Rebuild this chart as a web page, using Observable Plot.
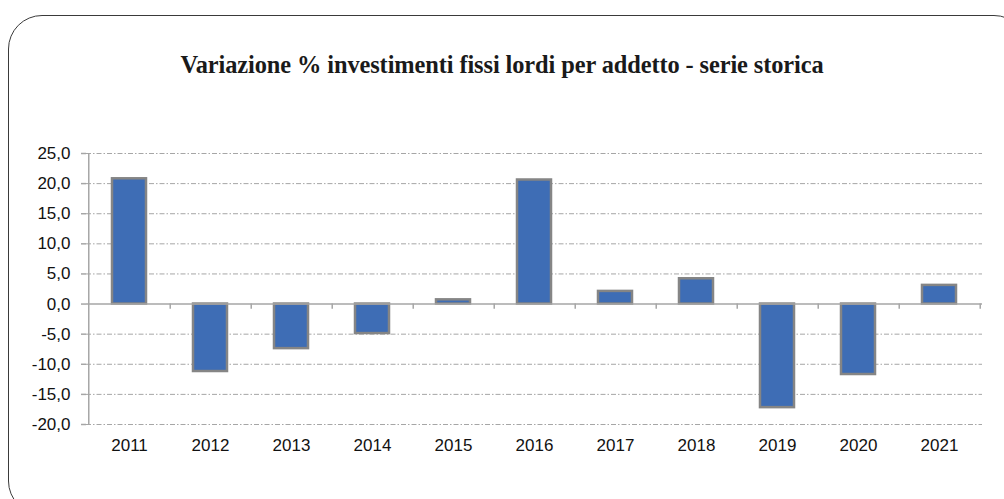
<!DOCTYPE html>
<html>
<head>
<meta charset="utf-8">
<script src="https://cdn.jsdelivr.net/npm/d3@7"></script>
<script src="https://cdn.jsdelivr.net/npm/@observablehq/plot@0.6"></script>
<style>
  html, body { margin: 0; padding: 0; background: #fff; }
  #wrap { position: relative; width: 1004px; height: 499px; overflow: hidden; background: #fff; }
  #frame { position: absolute; left: 8px; top: 15px; width: 1020px; height: 500px;
           border: 1.5px solid #3a3a3a; border-radius: 34px; box-sizing: border-box; }
  #title { position: absolute; left: 0; width: 1004px; top: 51px; text-align: center;
           font-family: "Liberation Serif", "Times New Roman", serif; font-weight: bold;
           font-size: 24.4px; color: #1a1a1a; letter-spacing: -0.1px; }
  #chart { position: absolute; left: 0; top: 0; }
</style>
</head>
<body>
<div id="wrap">
  <div id="frame"></div>
  <div id="title">Variazione % investimenti fissi lordi per addetto - serie storica</div>
  <div id="chart"></div>
</div>
<script>
const years = ["2011","2012","2013","2014","2015","2016","2017","2018","2019","2020","2021"];
const values = [20.8, -11.2, -7.4, -4.9, 0.7, 20.6, 2.1, 4.2, -17.2, -11.7, 3.1];
const yTicks = [-20, -15, -10, -5, 0, 5, 10, 15, 20, 25];

const data = years.map((y, i) => ({year: y, value: values[i]}));

const W = 1004, H = 499, mL = 86, mR = 22, mT = 153, mB = 75;
const step = (W - mL - mR) / years.length;
const fmt = d => d.toFixed(1).replace(".", ",");
const grid = yTicks.filter(t => t !== 0);

const plot = Plot.plot({
  width: W,
  height: H,
  marginLeft: mL,
  marginRight: mR,
  marginTop: mT,
  marginBottom: mB,
  style: {fontFamily: "'Liberation Sans', Arial, sans-serif", fontSize: "17px", color: "#111", background: "transparent"},
  x: {domain: years, paddingInner: 0.58, paddingOuter: 0.29, label: null},
  y: {domain: [-20, 25], label: null},
  marks: [
    Plot.ruleY(grid, {stroke: "#a6a6a6", strokeWidth: 1, strokeDasharray: "5,2,1.5,2"}),
    Plot.barY(data, {x: "year", y: "value", fill: "#3E6DB5", stroke: "#858585", strokeWidth: 2.5}),
    Plot.ruleY([0], {stroke: "#a6a6a6", strokeWidth: 1.5}),
    Plot.ruleX(years, {x: d => d, y1: 0, y2: -0.85, dx: step / 2, stroke: "#a6a6a6", strokeWidth: 1.5}),
    Plot.ruleX([years[0]], {x: d => d, y1: -20, y2: 25, dx: -step / 2, stroke: "#a6a6a6", strokeWidth: 1.5}),
    Plot.axisY(yTicks, {tickFormat: fmt, tickSize: 5, tickPadding: 11, stroke: "#a6a6a6", strokeWidth: 1.5, fill: "#111", fontSize: 17}),
    Plot.axisX(years, {tickSize: 0, tickPadding: 0, anchor: "bottom", dy: 14, fill: "#111", fontSize: 17})
  ]
});
document.getElementById("chart").appendChild(plot);
</script>
</body>
</html>
